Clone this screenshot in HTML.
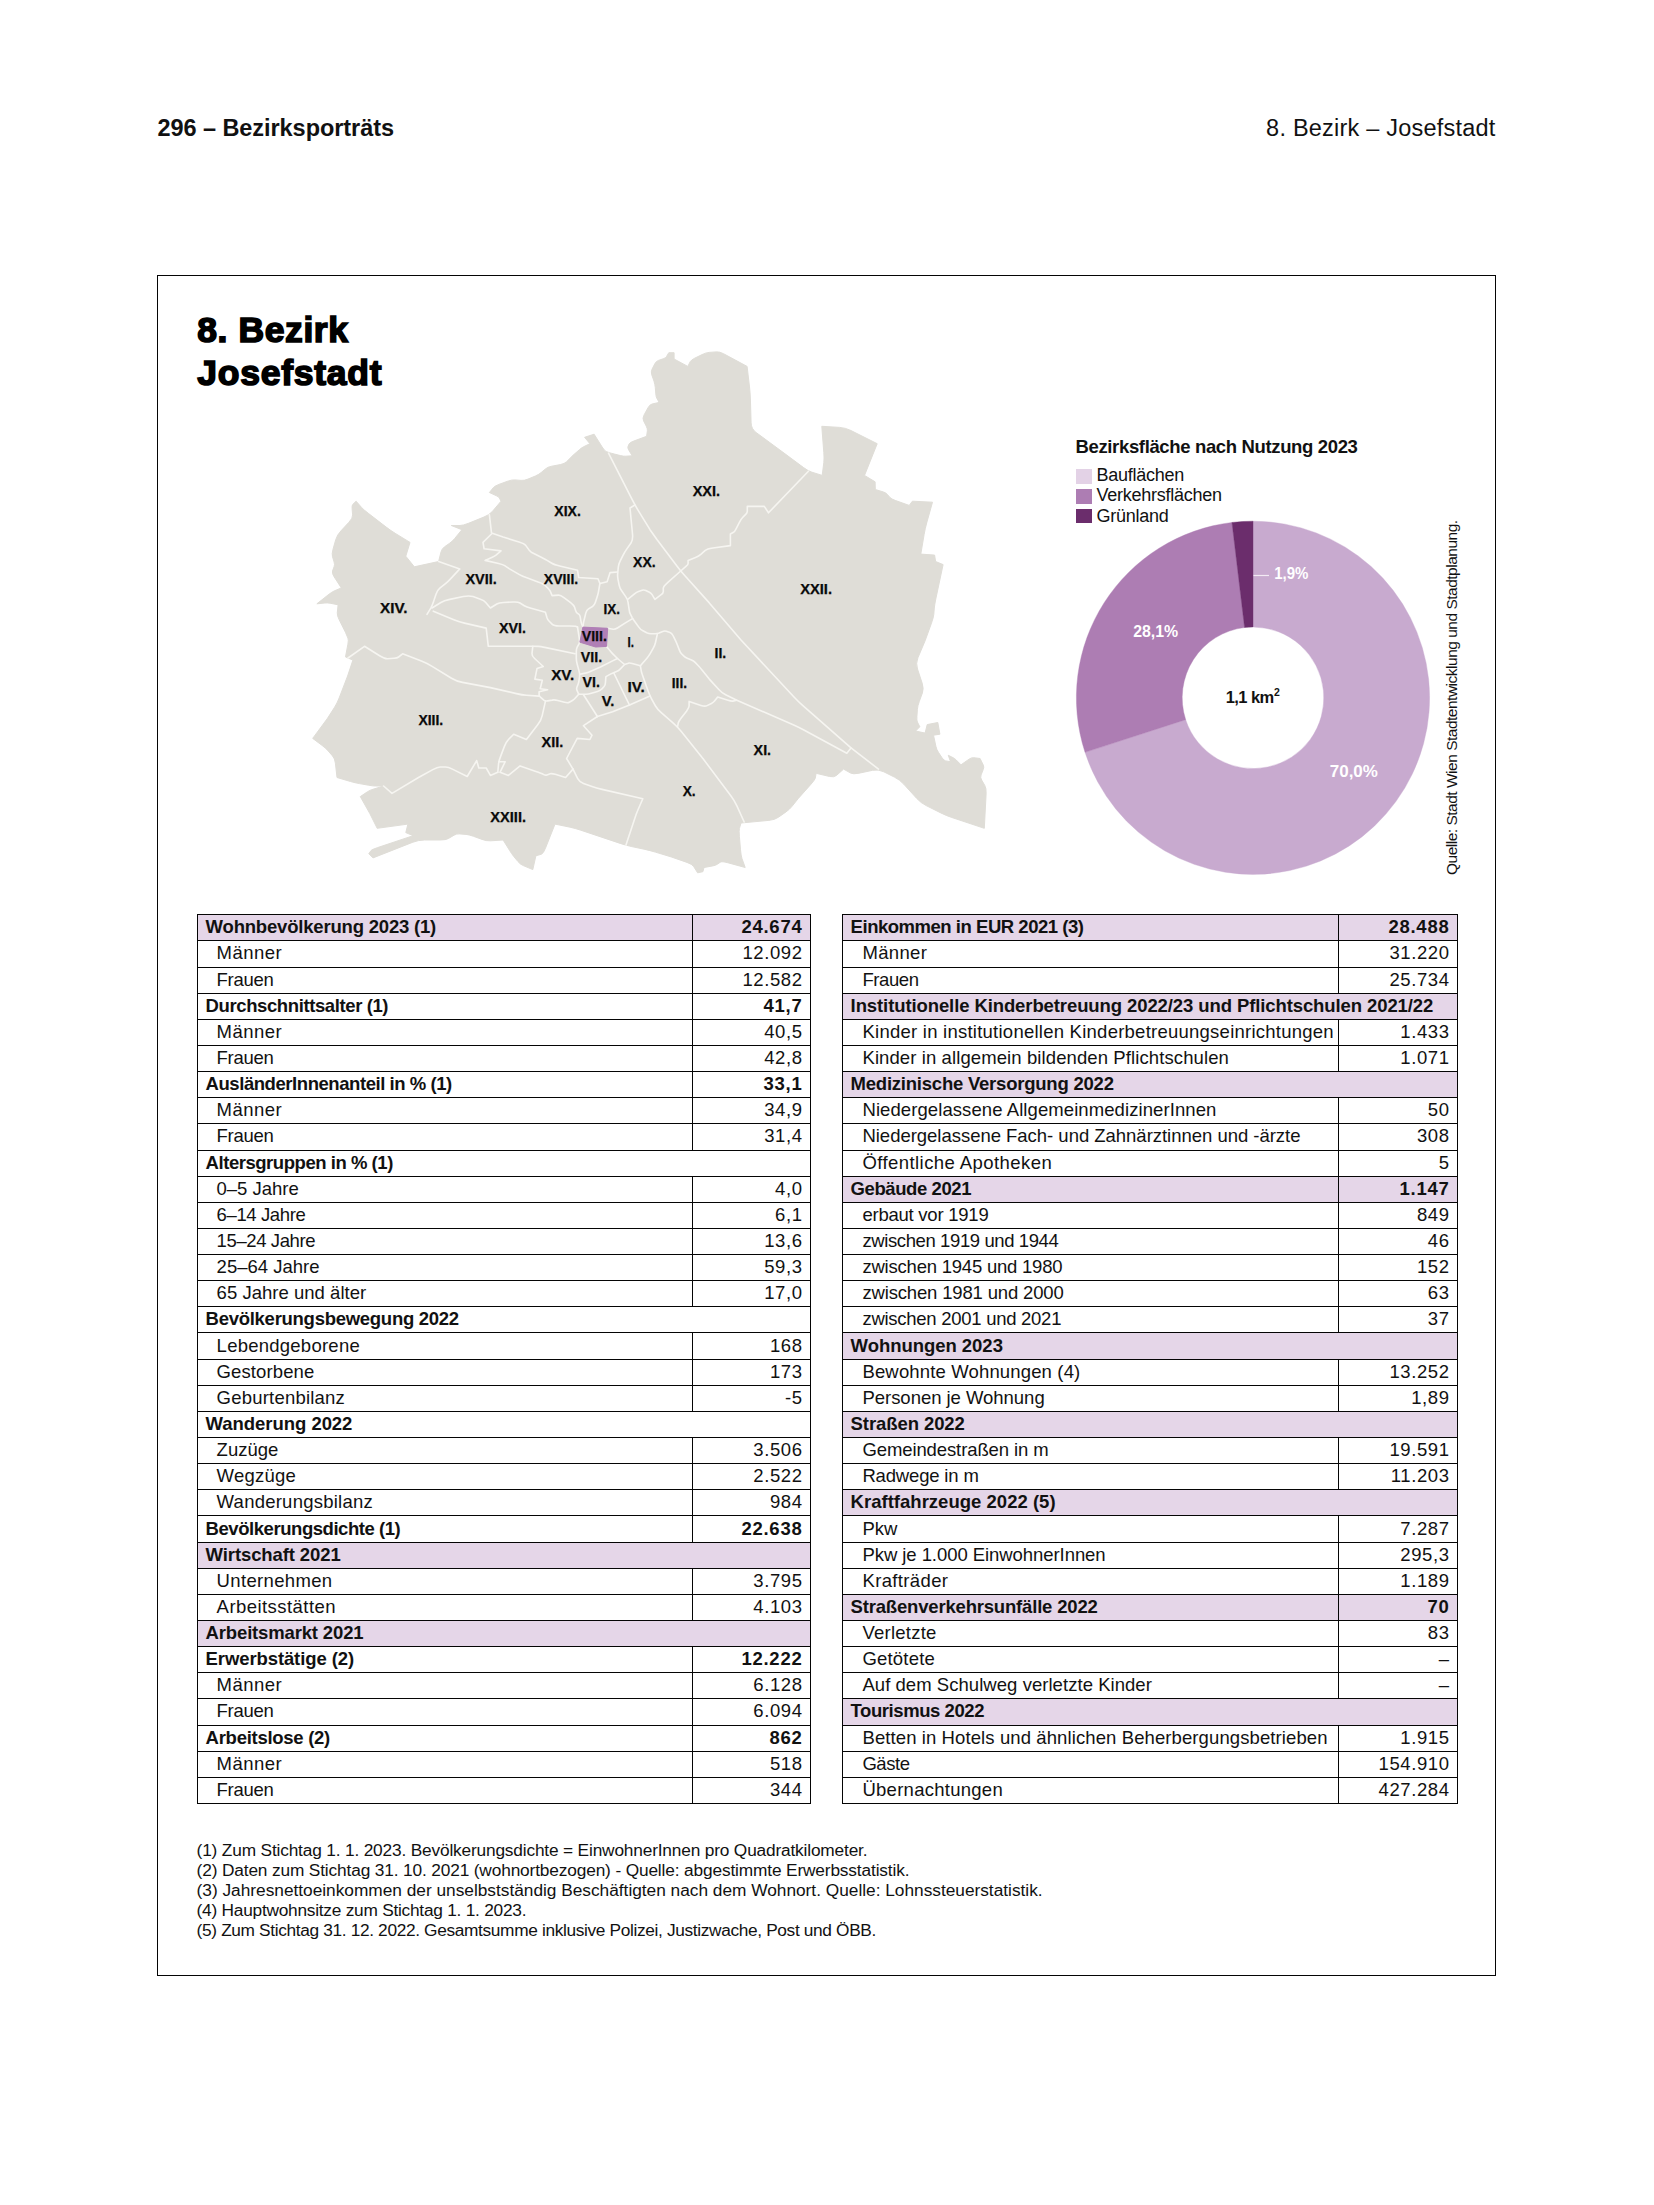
<!DOCTYPE html>
<html lang="de">
<head>
<meta charset="utf-8">
<title>8. Bezirk – Josefstadt</title>
<style>

html,body{margin:0;padding:0;background:#fff;}
body{width:1654px;height:2205px;position:relative;overflow:hidden;font-family:"Liberation Sans",sans-serif;color:#111111;}
.abs{position:absolute;white-space:nowrap;}
.hdr{font-size:23.5px;line-height:23.5px;}
.frame{position:absolute;left:157px;top:275px;width:1337px;height:1699px;border:1px solid #050505;}
h1{position:absolute;margin:0;left:197.3px;font-size:35.5px;line-height:42.9px;font-weight:bold;letter-spacing:0.75px;-webkit-text-stroke:1.6px #000;color:#000;white-space:nowrap;}
svg{position:absolute;left:0;top:0;overflow:visible;}
.maplbl{font-family:"Liberation Sans",sans-serif;font-weight:bold;font-size:14px;fill:#0a0a0a;stroke:#0a0a0a;stroke-width:0.25px;}
.ctitle{font-size:18.5px;line-height:18.5px;font-weight:bold;}
.leg{font-size:18px;line-height:18px;letter-spacing:-0.25px;}
.sw{position:absolute;left:1076px;width:15.5px;height:14.7px;}
.pct{font-family:"Liberation Sans",sans-serif;font-weight:bold;font-size:16.5px;fill:#fff;}
.src{position:absolute;font-size:15.5px;line-height:15.5px;white-space:nowrap;transform-origin:0 0;transform:rotate(-90deg);}
.tbl{position:absolute;border:1px solid #050505;box-sizing:border-box;}
.row{position:absolute;left:0;right:0;box-sizing:border-box;border-top:1px solid #050505;font-size:18.5px;line-height:25px;white-space:nowrap;}
.row.first{border-top:none;}
.row.hl{background:#e5d6e8;}
.lab{position:absolute;left:18.6px;top:0;}
.row.b .lab{left:7.6px;font-weight:bold;}
.val{position:absolute;right:0;top:0;bottom:0;box-sizing:border-box;border-left:1px solid #050505;text-align:right;padding-right:7.4px;letter-spacing:0.6px;}
.row.b .val{font-weight:bold;letter-spacing:0.75px;padding-right:7.5px;}
.fn{position:absolute;left:196.6px;font-size:17.3px;line-height:20px;margin:0;white-space:nowrap;}
.fn span{display:block;}

</style>
</head>
<body>
<div class="abs hdr" style="left:157.4px;top:116.71px;font-weight:bold;letter-spacing:-0.054px">296 – Bezirksporträts</div>
<div class="abs hdr" style="right:158.49px;top:116.71px;letter-spacing:0.215px">8. Bezirk – Josefstadt</div>
<div class="frame"></div>
<h1 style="top:309.35px"><span style="letter-spacing:0.58px">8. Bezirk</span><br>Josefstadt</h1>
<svg width="1654" height="2205" viewBox="0 0 1654 2205">
<path d="M356.1,501.2L361.6,507.5Q363.5,509.6 368.3,513.3L386.2,527.1Q391.0,530.8 395.8,533.7L410.0,542.4L405.8,556.2L414.3,566.8L438.6,561.5L441.0,552.0Q441.8,548.8 444.4,546.9L449.7,543.2Q452.3,541.4 454.7,538.5L461.9,529.7L451.3,525.5L460.0,525.5Q462.9,525.5 468.5,523.3L483.8,517.1Q489.4,514.9 492.3,511.5L501.0,501.2L499.4,498.0Q498.9,496.9 496.5,495.8L489.4,492.5L493.4,487.6Q494.7,486.0 498.9,484.4L507.4,481.3Q511.6,479.7 514.8,479.9L521.1,480.4Q524.3,480.7 528.0,479.1L535.4,476.0Q539.1,474.4 541.2,472.5L545.5,468.9Q547.6,467.0 551.8,466.2L560.3,464.6Q564.5,463.8 566.6,461.7L573.0,455.3L579.3,449.8Q581.4,447.9 583.5,446.8L589.9,443.7L584.6,437.3L594.1,434.2L602.1,446.9Q604.7,451.1 606.3,451.6L609.4,452.7Q611.0,453.2 614.2,454.0L620.5,455.6Q623.7,456.4 625.8,456.2L632.2,455.8L628.7,449.9Q627.5,447.9 628.0,446.6L629.1,443.9Q629.6,442.6 633.9,441.0L646.6,436.3L647.4,430.8Q647.6,428.9 646.3,426.2L643.6,420.9Q642.3,418.3 644.1,414.9L647.9,407.9Q649.7,404.5 652.1,404.0L659.2,402.4L656.9,398.4Q656.1,397.1 655.8,393.9L655.3,387.6Q655.0,384.4 654.0,381.2L651.8,374.9Q650.8,371.7 652.1,369.1L654.8,363.8Q656.1,361.2 658.5,360.4L663.2,358.8Q665.6,358.0 666.4,356.7L668.8,352.7L674.1,352.7L674.1,359.0L687.8,366.4L690.2,361.7Q691.0,360.1 694.7,358.2L702.1,354.6Q705.8,352.7 709.2,352.4L716.1,351.9Q719.6,351.6 723.5,353.7L735.4,360.1L747.1,366.4L749.5,386.9Q750.2,392.9 750.4,398.9L751.1,422.9Q751.3,428.9 756.1,432.5L779.9,450.0L803.6,467.6Q808.4,471.2 811.9,472.2L822.2,475.4L823.8,462.7Q824.3,458.5 823.8,452.5L821.8,426.3L839.6,427.4Q845.5,427.8 850.9,430.5L877.2,443.7L864.5,475.4L875.1,481.8L875.3,489.5L883.2,491.9Q885.9,492.7 887.2,494.3L889.9,497.4Q891.2,499.0 895.7,500.6L909.2,505.4L912.4,501.2L932.5,502.2L926.7,522.9Q925.1,528.7 924.1,534.6L920.8,554.1L934.6,555.1L935.6,561.5L943.1,564.6L935.8,598.9Q934.6,604.8 934.3,608.0L933.8,614.3Q933.5,617.5 931.5,623.1L925.1,640.8L917.9,657.8Q915.6,663.3 917.5,669.0L922.1,683.0Q924.0,688.7 922.4,692.9L919.3,701.4Q917.7,705.6 917.4,709.3L916.9,716.7Q916.6,720.4 917.4,722.0L919.8,726.8L915.6,731.0L925.1,733.1L927.2,724.6L937.8,722.5L939.9,734.2L933.5,735.2L935.9,746.3Q936.7,750.0 938.6,752.6L942.2,758.0Q944.1,760.6 945.7,760.9L950.5,761.7L948.3,755.3L953.1,757.7Q954.7,758.5 956.3,760.1L961.0,764.8L969.0,759.2Q971.6,757.4 973.7,757.7L980.1,758.5L983.2,764.9Q984.3,767.0 983.2,769.6L981.1,774.9Q980.1,777.5 981.7,780.1L984.8,785.5Q986.4,788.1 986.1,794.1L984.3,828.3L951.9,817.5Q946.2,815.6 940.8,812.9L926.2,805.6Q920.8,802.9 916.8,798.5L903.7,784.1Q899.7,779.7 894.4,777.1L883.8,771.8Q878.5,769.1 872.6,770.3L859.0,773.2Q853.1,774.4 850.7,773.1L843.6,769.1L836.5,775.4Q834.1,777.5 829.6,776.5L816.1,773.3L815.3,778.1Q815.0,779.7 811.0,784.2L798.1,798.7L791.8,806.6Q789.7,809.3 786.0,811.9L778.5,817.2Q774.8,819.9 768.8,820.4L741.0,823.0L739.4,828.5Q738.9,830.4 739.4,836.4L740.5,849.8Q741.0,855.8 742.0,858.7L745.2,867.5L727.7,862.7Q721.9,861.1 720.3,862.2L717.2,864.3Q715.6,865.4 712.7,865.9L704.0,867.5L702.9,871.7L697.6,872.8L693.6,866.4Q692.3,864.3 687.0,862.4L671.2,856.9L655.3,852.1Q650.0,850.5 644.1,849.2L631.8,846.6Q625.9,845.3 620.2,843.4L580.8,830.2Q575.1,828.3 570.1,827.2L555.0,824.1L545.5,848.1Q543.3,853.7 541.4,854.2L535.9,855.8L532.8,869.6L523.3,865.6Q520.1,864.3 518.0,861.6L513.7,856.4Q511.6,853.7 509.5,850.3L503.1,840.0L490.4,840.8Q486.2,841.0 482.0,839.4L473.5,836.3Q469.3,834.7 466.1,834.4L459.8,833.9Q456.6,833.6 454.0,835.2L448.6,838.4Q446.0,840.0 440.0,840.0L424.5,840.0Q418.5,840.0 412.9,842.2L373.0,857.9L368.8,853.7L371.1,850.5Q371.9,849.5 377.6,847.6L413.2,835.7L405.8,832.6L407.9,824.1L377.2,828.3L369.8,813.5L360.3,796.6L367.4,791.8Q369.8,790.2 373.2,789.2L383.6,786.0L375.6,786.0Q373.0,786.0 368.5,785.2L359.5,783.6Q355.0,782.8 350.5,781.5L337.0,777.5L335.4,763.2Q334.9,758.5 332.5,755.9L327.8,750.5Q325.4,747.9 322.2,745.5L312.7,738.4L327.5,718.3L334.6,707.2Q337.0,703.5 339.2,697.9L347.6,676.0L352.9,660.1L345.5,656.9L347.9,644.2Q348.7,640.0 347.9,638.1L345.5,632.4L339.1,619.6Q337.0,615.4 337.3,612.8L338.1,604.8L330.1,603.2Q327.5,602.7 324.9,603.0L316.9,603.8L328.0,595.0Q331.7,592.1 334.1,591.0L341.3,587.9L334.1,576.8Q331.7,573.1 332.5,571.0L334.1,566.7Q334.9,564.6 334.1,562.0L332.5,556.7Q331.7,554.1 333.0,549.3L335.7,539.8Q337.0,535.0 341.0,530.8L348.9,522.3Q352.9,518.1 352.6,514.9L352.1,508.6Q351.8,505.4 352.9,504.3Z" fill="#dfddd7" stroke="#dfddd7" stroke-width="1" stroke-linejoin="round"/>
<g fill="none" stroke="#f6f5f1" stroke-width="1.6" stroke-linejoin="round" stroke-linecap="round">
<path d="M608.5,453.2L632.2,499.7Q634.9,505.0 638.0,510.1L650.0,529.7L657.3,540.0L677.1,566.2Q680.7,571.0 684.7,575.5L709.3,602.9L741.0,640.0L794.0,697.0Q798.1,701.4 802.6,705.4L851.0,747.9L878.5,769.1"/>
<path d="M808.4,471.2L768.5,512.8L764.3,506.4L747.3,506.4L747.3,511.2Q747.3,512.8 745.7,514.4L742.6,517.5Q741.0,519.1 739.4,522.3L736.2,528.6Q734.6,531.8 733.5,532.3L730.4,534.0L730.4,545.6L712.9,548.0Q707.1,548.8 705.0,550.6L700.8,554.4Q698.7,556.2 696.1,557.2L688.1,560.4L688.1,563.5Q688.1,564.6 686.2,566.2L680.7,571.0"/>
<path d="M680.7,571.0L667.6,582.6Q663.3,586.5 663.3,588.2L663.3,591.5Q663.3,593.2 661.2,594.7L654.9,599.3L652.1,594.7Q651.2,593.2 649.4,592.3L645.8,590.5Q644.0,589.6 642.2,590.2L638.5,591.4Q636.7,592.0 634.5,593.8L627.7,599.3"/>
<path d="M634.9,505.0L630.0,508.0L632.5,534.0Q633.1,540.0 631.0,543.0L626.7,549.1Q624.6,552.1 623.1,555.1L620.1,561.2Q618.6,564.2 618.3,567.2L617.7,573.3Q617.4,576.3 618.0,579.3L619.2,585.4Q619.8,588.4 621.8,591.1L625.7,596.6Q627.7,599.3 628.1,602.6L629.1,609.3Q629.5,612.6 630.4,614.2L632.2,617.6Q633.1,619.2 634.9,621.8L638.6,626.9Q640.4,629.5 642.5,630.5L646.7,632.7Q648.8,633.7 650.9,633.7L655.2,633.7Q657.3,633.7 659.1,633.0L662.7,631.5Q664.5,630.7 666.3,631.3L670.0,632.5Q671.8,633.1 673.0,635.5L675.4,640.4Q676.6,642.8 677.5,645.2L679.4,650.1Q680.3,652.5 681.5,653.7L683.9,656.1Q685.1,657.3 687.2,658.2L691.5,660.0Q693.6,660.9 695.1,662.4L698.1,665.5Q699.6,667.0 702.0,670.0L709.3,679.1L718.8,689.5Q721.9,692.9 725.6,694.8L736.8,700.3L792.6,724.4Q798.1,726.8 803.4,729.7L846.8,753.2L851.0,747.9"/>
<path d="M438.6,561.5L459.8,568.9L451.0,578.4Q448.1,581.6 445.5,583.7L440.1,587.9Q437.5,590.0 436.1,594.0L433.4,602.0Q432.0,606.0 430.8,608.1L427.0,614.4"/>
<path d="M432.0,608.0L440.9,602.5Q443.9,600.6 449.8,599.4L463.4,596.5Q469.3,595.3 473.0,596.6L480.4,599.3Q484.1,600.6 485.7,602.5L490.4,608.0L496.8,604.0Q498.9,602.7 503.6,602.5L513.1,602.0Q517.9,601.7 520.0,603.0L524.3,605.7Q526.4,607.0 531.1,608.3L545.4,612.2L547.0,617.8Q547.6,619.7 549.2,621.3L552.3,624.4Q553.9,626.0 559.2,626.0L569.8,626.0Q575.1,626.0 575.7,626.3L577.5,627.1"/>
<path d="M433.3,611.2L453.2,619.5Q458.7,621.8 464.5,623.1L486.2,628.1L488.3,646.3L511.6,646.3L532.8,646.3L538.2,646.4Q540.0,646.4 545.9,647.6L575.1,653.7"/>
<path d="M489.4,514.9L491.5,532.9L503.1,537.1L519.0,541.9Q524.3,543.5 525.9,545.6L529.0,549.9Q530.6,552.0 534.3,553.8L541.7,557.5Q545.4,559.3 547.5,560.6L551.8,563.3Q553.9,564.6 559.7,566.0L577.5,570.2L578.7,577.5L598.0,578.7L599.9,583.5L607.1,581.7L610.1,572.6L617.4,572.0"/>
<path d="M491.5,534.0L483.0,542.4L484.1,548.8L501.0,550.9L496.3,554.9Q494.7,556.2 492.3,557.2L485.1,560.4L498.6,563.5Q503.1,564.6 504.7,565.7L509.5,568.9L519.0,574.4Q522.2,576.3 527.5,578.1L538.0,581.9Q543.3,583.7 544.9,585.3L548.1,588.4Q549.7,590.0 550.3,591.4L552.1,595.6L558.5,595.1Q560.6,595.0 563.9,597.6L570.6,602.7Q573.9,605.3 574.5,607.1L575.7,610.8Q576.3,612.6 577.2,613.2L579.0,614.4Q579.9,615.0 580.2,616.8L580.8,620.4Q581.1,622.2 581.5,623.4L582.9,627.1"/>
<path d="M599.9,583.5L598.5,591.7Q598.0,594.4 597.1,597.1L595.3,602.6Q594.4,605.3 592.5,606.5L588.5,608.9Q586.6,610.1 585.8,613.1L584.3,619.2Q583.5,622.2 583.4,623.4L582.9,627.1"/>
<path d="M577.5,627.1L579.3,638.4Q579.9,642.2 579.0,643.9L577.2,647.1Q576.3,648.8 576.3,651.8L576.3,657.9Q576.3,660.9 577.2,664.2L579.0,670.9Q579.9,674.2 579.6,676.3L579.0,680.6Q578.7,682.7 578.1,684.2L576.9,687.2Q576.3,688.7 576.9,690.1L578.7,694.2"/>
<path d="M607.7,628.3L613.2,629.2Q615.0,629.5 617.4,628.0L624.6,623.4L632.5,618.6"/>
<path d="M606.5,646.4L611.1,651.9Q612.6,653.7 613.8,654.9L616.2,657.3Q617.4,658.5 619.2,660.0L624.6,664.5L628.3,663.2Q629.5,662.7 632.2,663.5L640.4,665.8"/>
<path d="M657.3,634.3L655.5,642.5Q654.9,645.2 653.4,647.9L650.3,653.4Q648.8,656.1 646.7,658.5L640.4,665.8"/>
<path d="M579.9,674.2L586.3,672.9Q588.4,672.4 591.4,671.0L600.5,667.0L612.6,660.9L617.4,658.5"/>
<path d="M578.7,694.2L586.0,694.2Q588.4,694.2 591.4,693.3L597.5,691.4Q600.5,690.5 601.7,689.1L604.1,686.5Q605.3,685.1 605.4,683.0L605.9,676.6L610.9,673.9Q612.6,673.0 614.1,672.4L617.1,671.2Q618.6,670.6 620.1,669.1L624.6,664.5"/>
<path d="M613.8,673.0L629.5,705.1"/>
<path d="M583.5,694.8L597.4,716.5"/>
<path d="M597.4,716.5L612.6,711.7L629.5,705.1L650.0,696.0"/>
<path d="M640.4,665.8L641.3,671.2Q641.6,673.0 643.7,678.6L647.9,690.4Q650.0,696.0 651.8,699.3L655.5,706.0Q657.3,709.3 661.8,713.2L673.0,722.9Q677.5,726.8 681.3,731.5L702.9,758.5L731.0,796.0Q734.6,800.8 737.0,806.1L744.2,822.0"/>
<path d="M677.5,726.8L678.3,722.8Q678.6,721.5 681.2,718.0L686.5,711.2Q689.1,707.7 689.1,706.1L689.1,701.4L701.0,705.4Q705.0,706.7 707.1,705.6L711.4,703.5Q713.5,702.4 714.5,701.1L717.7,697.1L728.0,700.3Q731.5,701.4 732.8,701.1L736.8,700.3"/>
<path d="M532.8,646.3L532.0,653.5Q531.7,655.9 534.6,658.5L543.3,666.5L537.0,668.6L534.9,679.1L542.3,680.2L540.2,688.7L547.6,689.7L539.1,691.8L539.1,695.0Q539.1,696.1 540.7,697.4L543.8,700.1Q545.4,701.4 547.7,700.9L552.2,700.1Q554.5,699.6 557.8,700.5L564.5,702.3Q567.8,703.2 569.3,702.3L572.4,700.5Q573.9,699.6 575.1,698.2L578.7,694.2"/>
<path d="M348.0,658.0L364.5,646.3L379.6,655.8Q384.6,659.0 387.8,658.8L394.1,658.2Q397.3,658.0 398.6,657.0L402.6,653.8L421.4,661.1Q427.0,663.3 432.1,666.4L451.5,678.2Q456.6,681.3 462.5,682.4L490.4,687.6L516.4,693.6Q522.2,695.0 526.4,695.3L539.1,696.1"/>
<path d="M545.4,701.4L542.2,715.6Q541.2,720.4 537.5,725.1L526.4,739.5L513.7,734.2L508.2,739.8Q506.3,741.6 504.4,746.4L500.8,755.9Q498.9,760.6 498.6,763.5L497.8,772.3"/>
<path d="M498.9,761.7L505.2,761.7L500.0,772.3L508.4,775.4L520.1,765.9L535.9,771.4Q541.2,773.3 542.2,773.8L544.4,774.9Q545.4,775.4 547.0,774.9L550.2,773.8Q551.8,773.3 555.2,774.3L565.6,777.5L573.0,769.1"/>
<path d="M597.4,716.5L583.5,725.7L592.0,735.2L589.9,739.5L577.2,738.4L566.6,758.5L573.0,769.1"/>
<path d="M497.8,772.3L490.4,775.4L486.2,768.0L478.8,768.0L476.7,760.6L467.2,776.5L452.9,769.4Q448.1,767.0 445.5,767.0L440.1,767.0Q437.5,767.0 432.8,769.6L418.5,777.5L392.0,793.4L383.6,786.0"/>
<path d="M573.0,769.1L577.7,778.6Q579.3,781.8 583.5,783.4L592.0,786.5Q596.2,788.1 602.1,789.4L642.8,798.7L638.0,809.8Q636.4,813.5 634.5,819.2L625.9,845.3"/>
</g>
<polygon points="582.9,627.1 607.7,628.3 606.5,646.4 595.6,647.0 579.9,642.2" fill="#b07fb6" stroke="#b07fb6" stroke-width="1" stroke-linejoin="round"/>
<text class="maplbl" x="692.7" y="496.3" textLength="27.4" lengthAdjust="spacingAndGlyphs">XXI.</text>
<text class="maplbl" x="554.3" y="515.9" textLength="26.5" lengthAdjust="spacingAndGlyphs">XIX.</text>
<text class="maplbl" x="633.1" y="567.3" textLength="22.6" lengthAdjust="spacingAndGlyphs">XX.</text>
<text class="maplbl" x="465.4" y="584.2" textLength="31.4" lengthAdjust="spacingAndGlyphs">XVII.</text>
<text class="maplbl" x="543.8" y="584.2" textLength="34.4" lengthAdjust="spacingAndGlyphs">XVIII.</text>
<text class="maplbl" x="800.2" y="594.3" textLength="31.8" lengthAdjust="spacingAndGlyphs">XXII.</text>
<text class="maplbl" x="380.1" y="613.0" textLength="27.4" lengthAdjust="spacingAndGlyphs">XIV.</text>
<text class="maplbl" x="603.5" y="613.8" textLength="16.5" lengthAdjust="spacingAndGlyphs">IX.</text>
<text class="maplbl" x="499.0" y="633.4" textLength="27.0" lengthAdjust="spacingAndGlyphs">XVI.</text>
<text class="maplbl" x="581.7" y="641.3" textLength="25.2" lengthAdjust="spacingAndGlyphs">VIII.</text>
<text class="maplbl" x="627.4" y="646.9" textLength="6.5" lengthAdjust="spacingAndGlyphs">I.</text>
<text class="maplbl" x="580.8" y="661.7" textLength="21.3" lengthAdjust="spacingAndGlyphs">VII.</text>
<text class="maplbl" x="714.5" y="658.3" textLength="11.7" lengthAdjust="spacingAndGlyphs">II.</text>
<text class="maplbl" x="551.2" y="680.4" textLength="23.1" lengthAdjust="spacingAndGlyphs">XV.</text>
<text class="maplbl" x="582.6" y="686.5" textLength="17.4" lengthAdjust="spacingAndGlyphs">VI.</text>
<text class="maplbl" x="627.4" y="692.2" textLength="17.4" lengthAdjust="spacingAndGlyphs">IV.</text>
<text class="maplbl" x="671.8" y="687.9" textLength="15.2" lengthAdjust="spacingAndGlyphs">III.</text>
<text class="maplbl" x="601.7" y="706.1" textLength="12.6" lengthAdjust="spacingAndGlyphs">V.</text>
<text class="maplbl" x="418.4" y="724.9" textLength="24.8" lengthAdjust="spacingAndGlyphs">XIII.</text>
<text class="maplbl" x="541.6" y="747.1" textLength="21.8" lengthAdjust="spacingAndGlyphs">XII.</text>
<text class="maplbl" x="753.6" y="754.9" textLength="17.5" lengthAdjust="spacingAndGlyphs">XI.</text>
<text class="maplbl" x="682.7" y="796.3" textLength="13.0" lengthAdjust="spacingAndGlyphs">X.</text>
<text class="maplbl" x="490.3" y="821.9" textLength="35.7" lengthAdjust="spacingAndGlyphs">XXIII.</text>
<path d="M1253.00,521.20 A176.6,176.6 0 1 1 1085.04,752.37 L1185.67,719.68 A70.8,70.8 0 1 0 1253.00,627.00 Z" fill="#c8aacf" stroke="#c8aacf" stroke-width="0.4"/>
<path d="M1085.04,752.37 A176.6,176.6 0 0 1 1231.97,522.46 L1244.57,627.50 A70.8,70.8 0 0 0 1185.67,719.68 Z" fill="#ad7db3" stroke="#ad7db3" stroke-width="0.4"/>
<path d="M1231.97,522.46 A176.6,176.6 0 0 1 1253.00,521.20 L1253.00,627.00 A70.8,70.8 0 0 0 1244.57,627.50 Z" fill="#6b2d6c" stroke="#6b2d6c" stroke-width="0.4"/>
<line x1="1253.5" y1="575.5" x2="1269" y2="575.5" stroke="#f3eaf4" stroke-width="1.2"/>
<text class="pct" x="1274.2" y="579.4" textLength="34.2" lengthAdjust="spacingAndGlyphs">1,9%</text>
<text class="pct" x="1133.2" y="636.6" textLength="45" lengthAdjust="spacingAndGlyphs">28,1%</text>
<text class="pct" x="1329.8" y="776.5" textLength="48.1" lengthAdjust="spacingAndGlyphs">70,0%</text>
<text x="1225.8" y="702.5" style="font-family:'Liberation Sans',sans-serif;font-weight:bold;font-size:16.5px;letter-spacing:-0.6px" fill="#111111">1,1 km<tspan dy="-7" dx="0.5" style="font-size:10.5px">2</tspan></text>
</svg>
<div class="abs ctitle" style="left:1075.5px;top:437.84px;letter-spacing:-0.355px">Bezirksfläche nach Nutzung 2023</div>
<div class="sw" style="top:469.20px;background:#e3d2e6"></div>
<div class="abs leg" style="left:1096.5px;top:466.36px">Bauflächen</div>
<div class="sw" style="top:488.95px;background:#ad7db3"></div>
<div class="abs leg" style="left:1096.5px;top:486.46px">Verkehrsflächen</div>
<div class="sw" style="top:508.70px;background:#6b2d6c"></div>
<div class="abs leg" style="left:1096.5px;top:506.56px">Grünland</div>
<div class="src" style="left:1444px;top:875px;letter-spacing:-0.495px">Quelle: Stadt Wien Stadtentwicklung und Stadtplanung.</div>
<div class="tbl" style="left:197px;top:914px;width:614px;height:890px">
<div class="row first hl b" style="top:0px;height:25px;line-height:24.58px"><span class="lab" style="letter-spacing:-0.191px">Wohnbevölkerung 2023 (1)</span><span class="val" style="width:118px">24.674</span></div>
<div class="row" style="top:25px;height:27px;line-height:24.86px"><span class="lab" style="letter-spacing:0.470px">Männer</span><span class="val" style="width:118px">12.092</span></div>
<div class="row" style="top:52px;height:26px;line-height:23.14px"><span class="lab" style="letter-spacing:-0.286px">Frauen</span><span class="val" style="width:118px">12.582</span></div>
<div class="row b" style="top:78px;height:26px;line-height:23.42px"><span class="lab" style="letter-spacing:-0.394px">Durchschnittsalter (1)</span><span class="val" style="width:118px">41,7</span></div>
<div class="row" style="top:104px;height:26px;line-height:23.70px"><span class="lab" style="letter-spacing:0.470px">Männer</span><span class="val" style="width:118px">40,5</span></div>
<div class="row" style="top:130px;height:26px;line-height:23.98px"><span class="lab" style="letter-spacing:-0.286px">Frauen</span><span class="val" style="width:118px">42,8</span></div>
<div class="row b" style="top:156px;height:26px;line-height:24.26px"><span class="lab" style="letter-spacing:-0.442px">AusländerInnenanteil in % (1)</span><span class="val" style="width:118px">33,1</span></div>
<div class="row" style="top:182px;height:26px;line-height:24.54px"><span class="lab" style="letter-spacing:0.470px">Männer</span><span class="val" style="width:118px">34,9</span></div>
<div class="row" style="top:208px;height:27px;line-height:24.82px"><span class="lab" style="letter-spacing:-0.286px">Frauen</span><span class="val" style="width:118px">31,4</span></div>
<div class="row b" style="top:235px;height:26px;line-height:23.10px"><span class="lab" style="letter-spacing:-0.459px">Altersgruppen in % (1)</span></div>
<div class="row" style="top:261px;height:26px;line-height:23.38px"><span class="lab" style="letter-spacing:-0.026px">0–5 Jahre</span><span class="val" style="width:118px">4,0</span></div>
<div class="row" style="top:287px;height:26px;line-height:23.66px"><span class="lab" style="letter-spacing:-0.383px">6–14 Jahre</span><span class="val" style="width:118px">6,1</span></div>
<div class="row" style="top:313px;height:26px;line-height:23.94px"><span class="lab" style="letter-spacing:-0.392px">15–24 Jahre</span><span class="val" style="width:118px">13,6</span></div>
<div class="row" style="top:339px;height:26px;line-height:24.22px"><span class="lab" style="letter-spacing:0.001px">25–64 Jahre</span><span class="val" style="width:118px">59,3</span></div>
<div class="row" style="top:365px;height:26px;line-height:24.50px"><span class="lab" style="letter-spacing:0.029px">65 Jahre und älter</span><span class="val" style="width:118px">17,0</span></div>
<div class="row b" style="top:391px;height:26px;line-height:24.78px"><span class="lab" style="letter-spacing:-0.273px">Bevölkerungsbewegung 2022</span></div>
<div class="row" style="top:417px;height:27px;line-height:25.06px"><span class="lab" style="letter-spacing:0.246px">Lebendgeborene</span><span class="val" style="width:118px">168</span></div>
<div class="row" style="top:444px;height:26px;line-height:23.34px"><span class="lab" style="letter-spacing:0.109px">Gestorbene</span><span class="val" style="width:118px">173</span></div>
<div class="row" style="top:470px;height:26px;line-height:23.62px"><span class="lab" style="letter-spacing:0.211px">Geburtenbilanz</span><span class="val" style="width:118px">-5</span></div>
<div class="row b" style="top:496px;height:26px;line-height:23.90px"><span class="lab" style="letter-spacing:-0.041px">Wanderung 2022</span></div>
<div class="row" style="top:522px;height:26px;line-height:24.18px"><span class="lab" style="letter-spacing:-0.015px">Zuzüge</span><span class="val" style="width:118px">3.506</span></div>
<div class="row" style="top:548px;height:26px;line-height:24.46px"><span class="lab" style="letter-spacing:0.212px">Wegzüge</span><span class="val" style="width:118px">2.522</span></div>
<div class="row" style="top:574px;height:26px;line-height:24.74px"><span class="lab" style="letter-spacing:0.237px">Wanderungsbilanz</span><span class="val" style="width:118px">984</span></div>
<div class="row b" style="top:600px;height:27px;line-height:25.02px"><span class="lab" style="letter-spacing:-0.447px">Bevölkerungsdichte (1)</span><span class="val" style="width:118px">22.638</span></div>
<div class="row hl b" style="top:627px;height:26px;line-height:23.30px"><span class="lab" style="letter-spacing:-0.106px">Wirtschaft 2021</span></div>
<div class="row" style="top:653px;height:26px;line-height:23.58px"><span class="lab" style="letter-spacing:0.342px">Unternehmen</span><span class="val" style="width:118px">3.795</span></div>
<div class="row" style="top:679px;height:26px;line-height:23.86px"><span class="lab" style="letter-spacing:0.448px">Arbeitsstätten</span><span class="val" style="width:118px">4.103</span></div>
<div class="row hl b" style="top:705px;height:26px;line-height:24.14px"><span class="lab" style="letter-spacing:-0.154px">Arbeitsmarkt 2021</span></div>
<div class="row b" style="top:731px;height:26px;line-height:24.42px"><span class="lab" style="letter-spacing:-0.103px">Erwerbstätige (2)</span><span class="val" style="width:118px">12.222</span></div>
<div class="row" style="top:757px;height:26px;line-height:24.70px"><span class="lab" style="letter-spacing:0.470px">Männer</span><span class="val" style="width:118px">6.128</span></div>
<div class="row" style="top:783px;height:27px;line-height:24.98px"><span class="lab" style="letter-spacing:-0.286px">Frauen</span><span class="val" style="width:118px">6.094</span></div>
<div class="row b" style="top:810px;height:26px;line-height:23.26px"><span class="lab" style="letter-spacing:-0.275px">Arbeitslose (2)</span><span class="val" style="width:118px">862</span></div>
<div class="row" style="top:836px;height:26px;line-height:23.54px"><span class="lab" style="letter-spacing:0.470px">Männer</span><span class="val" style="width:118px">518</span></div>
<div class="row" style="top:862px;height:26px;line-height:23.82px"><span class="lab" style="letter-spacing:-0.286px">Frauen</span><span class="val" style="width:118px">344</span></div>
</div>
<div class="tbl" style="left:842px;top:914px;width:616px;height:890px">
<div class="row first hl b" style="top:0px;height:25px;line-height:24.58px"><span class="lab" style="letter-spacing:-0.473px">Einkommen in EUR 2021 (3)</span><span class="val" style="width:119px">28.488</span></div>
<div class="row" style="top:25px;height:27px;line-height:24.86px"><span class="lab" style="left:19.45px;letter-spacing:0.329px">Männer</span><span class="val" style="width:119px">31.220</span></div>
<div class="row" style="top:52px;height:26px;line-height:23.14px"><span class="lab" style="left:19.45px;letter-spacing:-0.427px">Frauen</span><span class="val" style="width:119px">25.734</span></div>
<div class="row hl b" style="top:78px;height:26px;line-height:23.42px"><span class="lab" style="letter-spacing:-0.098px">Institutionelle Kinderbetreuung 2022/23 und Pflichtschulen 2021/22</span></div>
<div class="row" style="top:104px;height:26px;line-height:23.70px"><span class="lab" style="left:19.45px;letter-spacing:0.246px">Kinder in institutionellen Kinderbetreuungseinrichtungen</span><span class="val" style="width:119px">1.433</span></div>
<div class="row" style="top:130px;height:26px;line-height:23.98px"><span class="lab" style="left:19.45px;letter-spacing:0.102px">Kinder in allgemein bildenden Pflichtschulen</span><span class="val" style="width:119px">1.071</span></div>
<div class="row hl b" style="top:156px;height:26px;line-height:24.26px"><span class="lab" style="letter-spacing:-0.224px">Medizinische Versorgung 2022</span></div>
<div class="row" style="top:182px;height:26px;line-height:24.54px"><span class="lab" style="left:19.45px;letter-spacing:0.084px">Niedergelassene AllgemeinmedizinerInnen</span><span class="val" style="width:119px">50</span></div>
<div class="row" style="top:208px;height:27px;line-height:24.82px"><span class="lab" style="left:19.45px;letter-spacing:-0.022px">Niedergelassene Fach- und Zahnärztinnen und -ärzte</span><span class="val" style="width:119px">308</span></div>
<div class="row" style="top:235px;height:26px;line-height:23.10px"><span class="lab" style="left:19.45px;letter-spacing:0.428px">Öffentliche Apotheken</span><span class="val" style="width:119px">5</span></div>
<div class="row hl b" style="top:261px;height:26px;line-height:23.38px"><span class="lab" style="letter-spacing:-0.416px">Gebäude 2021</span><span class="val" style="width:119px">1.147</span></div>
<div class="row" style="top:287px;height:26px;line-height:23.66px"><span class="lab" style="left:19.45px;letter-spacing:-0.239px">erbaut vor 1919</span><span class="val" style="width:119px">849</span></div>
<div class="row" style="top:313px;height:26px;line-height:23.94px"><span class="lab" style="left:19.45px;letter-spacing:-0.396px">zwischen 1919 und 1944</span><span class="val" style="width:119px">46</span></div>
<div class="row" style="top:339px;height:26px;line-height:24.22px"><span class="lab" style="left:19.45px;letter-spacing:-0.218px">zwischen 1945 und 1980</span><span class="val" style="width:119px">152</span></div>
<div class="row" style="top:365px;height:26px;line-height:24.50px"><span class="lab" style="left:19.45px;letter-spacing:-0.164px">zwischen 1981 und 2000</span><span class="val" style="width:119px">63</span></div>
<div class="row" style="top:391px;height:26px;line-height:24.78px"><span class="lab" style="left:19.45px;letter-spacing:-0.271px">zwischen 2001 und 2021</span><span class="val" style="width:119px">37</span></div>
<div class="row hl b" style="top:417px;height:27px;line-height:25.06px"><span class="lab" style="letter-spacing:-0.038px">Wohnungen 2023</span></div>
<div class="row" style="top:444px;height:26px;line-height:23.34px"><span class="lab" style="left:19.45px;letter-spacing:0.152px">Bewohnte Wohnungen (4)</span><span class="val" style="width:119px">13.252</span></div>
<div class="row" style="top:470px;height:26px;line-height:23.62px"><span class="lab" style="left:19.45px;letter-spacing:-0.028px">Personen je Wohnung</span><span class="val" style="width:119px">1,89</span></div>
<div class="row hl b" style="top:496px;height:26px;line-height:23.90px"><span class="lab" style="letter-spacing:-0.084px">Straßen 2022</span></div>
<div class="row" style="top:522px;height:26px;line-height:24.18px"><span class="lab" style="left:19.45px;letter-spacing:-0.102px">Gemeindestraßen in m</span><span class="val" style="width:119px">19.591</span></div>
<div class="row" style="top:548px;height:26px;line-height:24.46px"><span class="lab" style="left:19.45px;letter-spacing:-0.173px">Radwege in m</span><span class="val" style="width:119px">11.203</span></div>
<div class="row hl b" style="top:574px;height:26px;line-height:24.74px"><span class="lab" style="letter-spacing:0.016px">Kraftfahrzeuge 2022 (5)</span></div>
<div class="row" style="top:600px;height:27px;line-height:25.02px"><span class="lab" style="left:19.45px;letter-spacing:-0.038px">Pkw</span><span class="val" style="width:119px">7.287</span></div>
<div class="row" style="top:627px;height:26px;line-height:23.30px"><span class="lab" style="left:19.45px;letter-spacing:-0.061px">Pkw je 1.000 EinwohnerInnen</span><span class="val" style="width:119px">295,3</span></div>
<div class="row" style="top:653px;height:26px;line-height:23.58px"><span class="lab" style="left:19.45px;letter-spacing:0.366px">Krafträder</span><span class="val" style="width:119px">1.189</span></div>
<div class="row hl b" style="top:679px;height:26px;line-height:23.86px"><span class="lab" style="letter-spacing:-0.183px">Straßenverkehrsunfälle 2022</span><span class="val" style="width:119px">70</span></div>
<div class="row" style="top:705px;height:26px;line-height:24.14px"><span class="lab" style="left:19.45px;letter-spacing:0.238px">Verletzte</span><span class="val" style="width:119px">83</span></div>
<div class="row" style="top:731px;height:26px;line-height:24.42px"><span class="lab" style="left:19.45px;letter-spacing:0.200px">Getötete</span><span class="val" style="width:119px">–</span></div>
<div class="row" style="top:757px;height:26px;line-height:24.70px"><span class="lab" style="left:19.45px;letter-spacing:0.047px">Auf dem Schulweg verletzte Kinder</span><span class="val" style="width:119px">–</span></div>
<div class="row hl b" style="top:783px;height:27px;line-height:24.98px"><span class="lab" style="letter-spacing:-0.434px">Tourismus 2022</span></div>
<div class="row" style="top:810px;height:26px;line-height:23.26px"><span class="lab" style="left:19.45px;letter-spacing:0.102px">Betten in Hotels und ähnlichen Beherbergungsbetrieben</span><span class="val" style="width:119px">1.915</span></div>
<div class="row" style="top:836px;height:26px;line-height:23.54px"><span class="lab" style="left:19.45px;letter-spacing:-0.467px">Gäste</span><span class="val" style="width:119px">154.910</span></div>
<div class="row" style="top:862px;height:26px;line-height:23.82px"><span class="lab" style="left:19.45px;letter-spacing:0.267px">Übernachtungen</span><span class="val" style="width:119px">427.284</span></div>
</div>
<p class="fn" style="top:1839.76px"><span style="letter-spacing:-0.170px">(1) Zum Stichtag 1. 1. 2023. Bevölkerungsdichte = EinwohnerInnen pro Quadratkilometer.</span><span style="letter-spacing:-0.146px">(2) Daten zum Stichtag 31. 10. 2021 (wohnortbezogen) - Quelle: abgestimmte Erwerbsstatistik.</span><span style="letter-spacing:-0.009px">(3) Jahresnettoeinkommen der unselbstständig Beschäftigten nach dem Wohnort. Quelle: Lohnssteuerstatistik.</span><span style="letter-spacing:-0.243px">(4) Hauptwohnsitze zum Stichtag 1. 1. 2023.</span><span style="letter-spacing:-0.346px">(5) Zum Stichtag 31. 12. 2022. Gesamtsumme inklusive Polizei, Justizwache, Post und ÖBB.</span></p>
</body>
</html>
